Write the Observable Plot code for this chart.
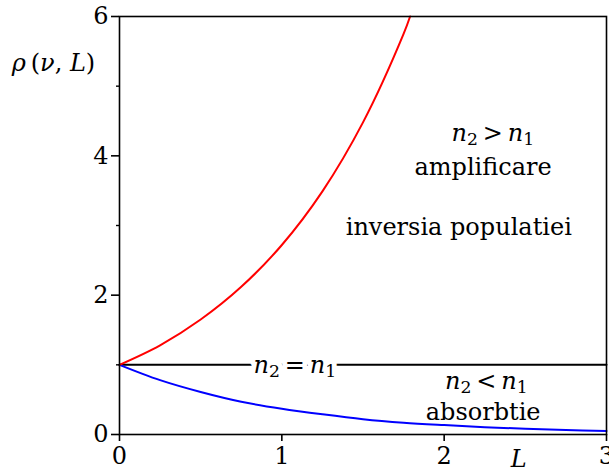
<!DOCTYPE html>
<html>
<head>
<meta charset="utf-8">
<script src="https://cdn.jsdelivr.net/npm/d3@7"></script>
<script src="https://cdn.jsdelivr.net/npm/@observablehq/plot@0.6"></script>
<style>
  html, body { margin: 0; padding: 0; background: #fff; }
  #chart svg { display: block; }
  #chart svg text { font-family: "DejaVu Serif", "Liberation Serif", serif; }
</style>
</head>
<body>
<div id="chart"></div>
<script>
// Gain factor rho(nu, L) versus length L
const gainL   = [0, 0.25, 0.5, 0.75, 1, 1.25, 1.5, 1.75, 1.79];
const gainRho = [1, 1.28, 1.65, 2.12, 2.72, 3.49, 4.48, 5.75, 6.0];

const lossL   = [0, 0.25, 0.5, 0.75, 1, 1.25, 1.5, 1.75, 2, 2.25, 2.5, 2.75, 3];
const lossRho = [1, 0.78, 0.61, 0.47, 0.37, 0.29, 0.22, 0.17, 0.135, 0.105, 0.082, 0.064, 0.05];

const equalL   = [0, 3];
const equalRho = [1, 1];

const xTicks = [0, 1, 2, 3];
const yMajorTicks = [0, 2, 4, 6];
const yMinorTicks = [1, 3, 5];

const regionLabels = ["n₂ > n₁", "amplificare", "inversia populatiei", "n₂ = n₁", "n₂ < n₁", "absorbtie"];
const xLabel = "L";
const yLabel = "ρ (ν, L)";

const gain = gainL.map((L, i) => ({L, rho: gainRho[i]}));
const loss = lossL.map((L, i) => ({L, rho: lossRho[i]}));
const equal = equalL.map((L, i) => ({L, rho: equalRho[i]}));

const serif = "DejaVu Serif";
const label = (text, x, y, extra = {}) =>
  Plot.text([text], {x, y, text: d => d, fontSize: 24, fontFamily: serif, ...extra});

const chart = Plot.plot({
  width: 609,
  height: 473,
  marginLeft: 119,
  marginRight: 3,
  marginTop: 16,
  marginBottom: 39,
  x: {type: "linear", domain: [0, 3]},
  y: {type: "linear", domain: [0, 6]},
  style: {fontFamily: serif, fontSize: "24px", background: "#fff", color: "#000", overflow: "visible"},
  marks: [
    Plot.line(equal, {x: "L", y: "rho", stroke: "#000", strokeWidth: 2}),
    Plot.line(loss, {x: "L", y: "rho", stroke: "#0000ff", strokeWidth: 2, curve: "catmull-rom"}),
    Plot.line(gain, {x: "L", y: "rho", stroke: "#ff0000", strokeWidth: 2, curve: "catmull-rom"}),
    Plot.frame({stroke: "#000", strokeWidth: 1.6}),
    Plot.axisX(xTicks, {tickSize: 7, tickPadding: 5, strokeWidth: 1.6, label: null, fontSize: 24, fontFamily: serif, tickFormat: d => String(d)}),
    Plot.axisY(yMajorTicks, {tickSize: 8, tickPadding: 3, strokeWidth: 1.6, label: null, fontSize: 24, fontFamily: serif, tickFormat: d => String(d)}),
    Plot.axisY(yMinorTicks, {tickSize: 3, strokeWidth: 1.4, label: null, tickFormat: () => ""}),
    // region annotations
    label(regionLabels[0], 2.30, 4.32),
    label(regionLabels[1], 2.24, 3.83),
    label(regionLabels[2], 2.09, 2.98),
    // white backing that opens a gap in the n2 = n1 line, then the label itself
    label(regionLabels[3], 1.08, 1.0, {stroke: "#fff", fill: "#fff", strokeWidth: 10}),
    label(regionLabels[3], 1.08, 1.0),
    label(regionLabels[4], 2.26, 0.76),
    label(regionLabels[5], 2.24, 0.32),
    // axis titles
    label(xLabel, 2.46, 0, {dy: 25, fontStyle: "italic"}),
    label(yLabel, 0, 5.33, {dx: -66})
  ]
});

// Typeset the math labels: italic symbols, upright digits as subscripts.
function typeset(textEl, parts) {
  const t = d3.select(textEl);
  t.text(null);
  let shifted = false;
  for (const [s, kind] of parts) {
    const span = t.append("tspan").text(s);
    if (kind === "i") span.attr("font-style", "italic");
    if (kind === "sub") {
      span.attr("font-size", "0.72em").attr("dy", "0.24em");
      shifted = true;
    } else if (shifted) {
      span.attr("dy", "-0.17em");
      shifted = false;
    }
  }
}
d3.select(chart).selectAll("text").each(function() {
  const s = this.textContent;
  const m = s.match(/^n([₁₂]) (.) n([₁₂])$/);
  if (m) {
    const sub = c => c === "₁" ? "1" : "2";
    typeset(this, [["n", "i"], [sub(m[1]), "sub"], ["\u2009" + m[2] + "\u2009", ""], ["n", "i"], [sub(m[3]), "sub"]]);
  } else if (s === yLabel) {
    typeset(this, [["ρ", "i"], ["\u2009(", ""], ["ν", "i"], [", ", ""], ["L", "i"], [")", ""]]);
  }
});

document.getElementById("chart").append(chart);
</script>
</body>
</html>
